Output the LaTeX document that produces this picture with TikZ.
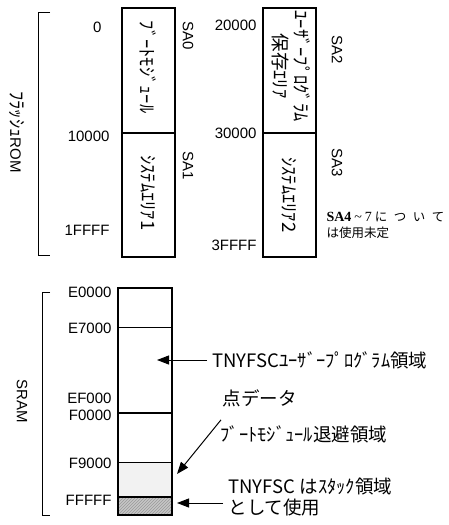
\documentclass[tikz,border=0pt]{standalone}
\usepackage{fontspec}
\setmainfont{Liberation Sans}
\newfontfamily\jpfont{Noto Sans CJK JP}
\newfontfamily\notefont{Liberation Serif}
\usetikzlibrary{arrows.meta,patterns}

\tikzset{
	addr/.style={anchor=east, inner sep=0pt, font=\fontsize{15}{18}\selectfont},
	sect/.style={rotate=-90, inner sep=0pt, font=\fontsize{15}{18}\selectfont},
	jplabel/.style={inner sep=0pt, font=\jpfont\fontsize{18.5}{21}\selectfont},
	ptr/.style={-{Triangle[length=12pt,width=9pt]}, line width=1pt, shorten <=5pt},
}

\begin{document}
\begin{tikzpicture}[x=1pt, y=-1pt, line width=1pt]
	\useasboundingbox (0,0) rectangle (448,525);

	% Instances/Symbols:
	\draw[line width=1.2pt] (122,8) rectangle (175,257);
	\draw[line width=1.8pt] (122,133) -- (175,133);
	\draw[line width=1.2pt] (263,8) rectangle (316,257);
	\draw[line width=1.8pt] (263,133) -- (316,133);

	\fill[gray!10] (118,462) rectangle (172,497);
	\fill[gray!45] (118,497) rectangle (172,515);
	\fill[pattern=north east lines, pattern color=gray!80] (118,497) rectangle (172,515);
	\draw[line width=1.2pt] (118,288) rectangle (172,515);
	\draw[line width=0.8pt] (118,327) -- (172,327);
	\draw[line width=1.8pt] (118,413) -- (172,413);
	\draw[line width=0.8pt] (118,462) -- (172,462);
	\draw[line width=1.2pt] (118,497) -- (172,497);

	% Lines:
	\draw (50,12) -- (38,12) -- (38,255) -- (50,255);
	\draw (50,292) -- (42,292) -- (42,515) -- (50,515);

	% Nodes:
	\node[addr] (r0) at (102,27) {0};
	\node[addr] (r1) at (110,136) {10000};
	\node[addr] (r2) at (110,230) {1FFFF};
	\node[addr] (r3) at (257,25) {20000};
	\node[addr] (r4) at (257,133) {30000};
	\node[addr] (r5) at (257,245) {3FFFF};

	\node[addr] (s0) at (112,292) {E0000};
	\node[addr] (s1) at (112,328) {E7000};
	\node[addr] (s2) at (112,398) {EF000};
	\node[addr] (s3) at (112,415) {F0000};
	\node[addr] (s4) at (112,463) {F9000};
	\node[addr] (s5) at (112,500) {FFFFF};

	\node[sect] (sa0) at (188,36) {SA0};
	\node[sect] (sa1) at (188,166) {SA1};
	\node[sect] (sa2) at (337,50) {SA2};
	\node[sect] (sa3) at (337,163) {SA3};

	\node[jplabel, rotate=-90] (boot) at (148,67) {ﾌﾞｰﾄﾓｼﾞｭｰﾙ};
	\node[jplabel, rotate=-90] (sys1) at (148,193) {ｼｽﾃﾑｴﾘｱ1};
	\node[jplabel, rotate=-90, align=center] (user) at (291,66) {ﾕｰｻﾞｰﾌﾟﾛｸﾞﾗﾑ\\保存ｴﾘｱ};
	\node[jplabel, rotate=-90] (sys2) at (289,195) {ｼｽﾃﾑｴﾘｱ2};

	% Labels
	\node[sect] (flash) at (17,132) {{\jpfont\fontsize{18.5}{21}\selectfont ﾌﾗｯｼｭ}ROM};
	\node[sect] (sram) at (22,401) {SRAM};
	\node[anchor=west, inner sep=0pt, align=left, font=\jpfont\fontsize{12.5}{16}\selectfont] (note) at (326,225)
		{{\notefont\fontsize{14}{16}\selectfont\textbf{SA4}\hspace{3pt}\textasciitilde\hspace{3pt}7}\hspace{3pt}に\hspace{6.5pt}つ\hspace{6.5pt}い\hspace{6.5pt}て\\は使用未定};

	\node[jplabel, anchor=west] (usr) at (212,360) {TNYFSCﾕｰｻﾞｰﾌﾟﾛｸﾞﾗﾑ領域};
	\node[jplabel, anchor=west] (pts) at (222,398) {点データ};
	\node[jplabel, anchor=west] (bkup) at (220,434) {ﾌﾞｰﾄﾓｼﾞｭｰﾙ退避領域};
	\node[jplabel, anchor=west, align=left] (stk) at (228,497) {TNYFSC はｽﾀｯｸ領域\\として使用};

	% Arrows:
	\coordinate (usrtip) at (157,360);
	\coordinate (bkuptip) at (177,474);
	\coordinate (stktip) at (177,503);
	\draw[ptr] (usr.west) -- (usrtip);
	\draw[ptr, shorten <=0pt] ([shift={(1,-5)}]bkup.north west) -- (bkuptip);
	\draw[ptr] (stk.west |- stktip) -- (stktip);

\end{tikzpicture}
\end{document}
